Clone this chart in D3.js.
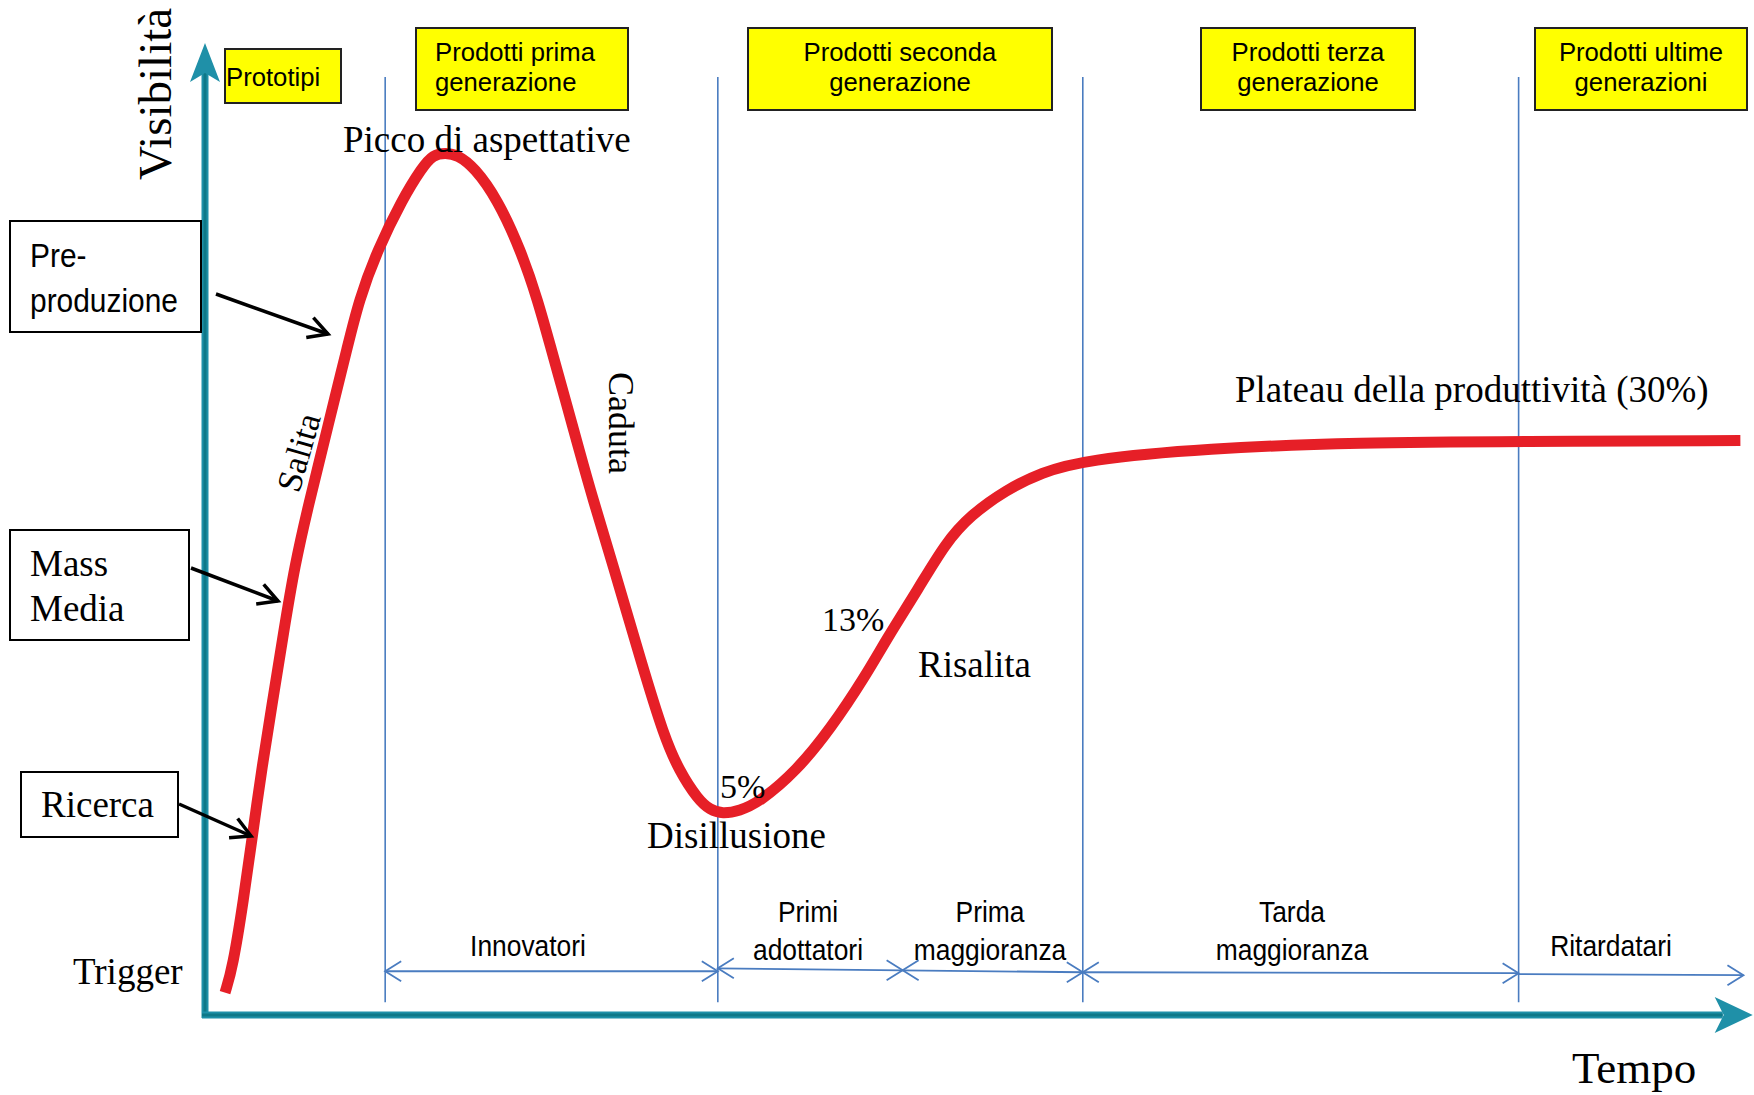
<!DOCTYPE html>
<html>
<head>
<meta charset="utf-8">
<script src="https://cdn.jsdelivr.net/npm/d3@7"></script>
<style>
  html, body { margin: 0; padding: 0; background: #ffffff; }
  svg { display: block; }
</style>
</head>
<body>
<svg id="chart" width="1754" height="1095"></svg>
<script>
// ---------------- DATA ----------------
// Hype curve: time (0-100) vs visibility (0-100)
const curveTime = [1.3, 1.8, 2.5, 3.1, 3.7, 4.4, 5.1, 5.8, 6.8, 7.6, 8.4, 9.2, 10.0, 11.2, 12.8, 14.1, 14.8, 15.6, 16.4, 17.5, 19.0, 20.5, 21.6, 22.5, 23.4, 24.3, 25.2, 26.4, 28.4, 29.8, 30.8, 32.0, 32.8, 33.6, 34.7, 36.0, 38.4, 40.6, 42.9, 44.3, 46.3, 48.1, 49.7, 52.0, 54.3, 57.1, 65.0, 75.0, 85.3, 99.7];
const curveVisibility = [2.3, 4.9, 11.8, 18.7, 25.5, 32.4, 39.3, 46.1, 53.0, 58.1, 63.3, 68.4, 73.6, 78.7, 83.9, 87.2, 88.5, 88.7, 88.5, 87.2, 83.9, 78.7, 73.6, 68.4, 63.3, 58.1, 53.0, 46.8, 35.9, 28.7, 25.1, 22.2, 21.1, 20.7, 21.0, 21.9, 25.1, 29.4, 34.9, 38.8, 43.8, 48.6, 51.4, 54.0, 55.8, 57.1, 58.3, 58.9, 59.0, 59.1];

// Product generation phases (boundaries on the time axis)
const phaseBoundaries = [11.7, 33.3, 57.0, 85.3];
const productLabels = [
  ["Prototipi"],
  ["Prodotti prima", "generazione"],
  ["Prodotti seconda", "generazione"],
  ["Prodotti terza", "generazione"],
  ["Prodotti ultime", "generazioni"]
];

// Adopter groups (spans on the time axis)
const adopterLabels = [["Innovatori"], ["Primi", "adottatori"], ["Prima", "maggioranza"], ["Tarda", "maggioranza"], ["Ritardatari"]];
const adopterStart = [11.7, 33.3, 45.3, 57.0, 85.3];
const adopterEnd = [33.3, 45.3, 57.0, 85.3, 99.9];
const adopterLevelStart = [4.5, 4.8, 4.6, 4.4, 4.2];
const adopterLevelEnd = [4.5, 4.6, 4.4, 4.3, 4.1];
const adopterStartHead = [true, true, true, true, false];

// Side driver labels
const driverLabels = [["Pre-", "produzione"], ["Mass", "Media"], ["Ricerca"]];

// ---------------- LAYOUT ----------------
const svg = d3.select("#chart");
const W = 1754, H = 1095;
svg.append("rect").attr("width", W).attr("height", H).attr("fill", "#ffffff");

const x = d3.scaleLinear().domain([0, 100]).range([205, 1745]);
const y = d3.scaleLinear().domain([0, 100]).range([1015, 43]);

const SERIF = "'Liberation Serif', 'Times New Roman', serif";
const SANS = "'Liberation Sans', Arial, sans-serif";

// multi-line narrow sans label as ONE text element
function sansText(parent, px, py, lines, size, anchor, lead, narrow) {
  const g = parent.append("g").attr("transform", `translate(${px},${py}) scale(${narrow || 0.88},1)`);
  const t = g.append("text").attr("x", 0).attr("y", 0)
    .attr("font-family", SANS).attr("font-size", size)
    .attr("text-anchor", anchor || "start").attr("fill", "#000");
  lines.forEach((ln, j) => {
    t.append("tspan").attr("x", 0).attr("dy", j === 0 ? 0 : lead).text(ln);
  });
  return g;
}
function serifText(parent, px, py, lines, size, rotate, lead) {
  const t = parent.append("text")
    .attr("font-family", SERIF).attr("font-size", size)
    .attr("fill", "#000")
    .attr("transform", `translate(${px},${py})` + (rotate ? ` rotate(${rotate})` : ""));
  [].concat(lines).forEach((ln, j) => {
    t.append("tspan").attr("x", 0).attr("dy", j === 0 ? 0 : lead).text(ln);
  });
  return t;
}

// ---------------- PHASE LINES ----------------
const blue = "#4a7cc0";
svg.append("g").selectAll("line").data(phaseBoundaries).join("line")
  .attr("x1", d => x(d)).attr("x2", d => x(d))
  .attr("y1", y(96.5)).attr("y2", y(1.3))
  .attr("stroke", blue).attr("stroke-width", 1.6);

// ---------------- AXES ----------------
const teal = "#1f90a8", tealDark = "#0f7888";
function arrowHeadPath(L, Wd, N) {
  return `M0,0 L${-L},${-Wd} L${-L + N},0 L${-L},${Wd} Z`;
}
const axes = svg.append("g");
axes.append("line").attr("x1", x(0)).attr("x2", x(0)).attr("y1", y(0) + 3).attr("y2", y(100) + 30)
  .attr("stroke", teal).attr("stroke-width", 7);
axes.append("line").attr("x1", x(0)).attr("x2", x(0)).attr("y1", y(0) + 3).attr("y2", y(100) + 30)
  .attr("stroke", tealDark).attr("stroke-width", 3);
axes.append("path").attr("d", arrowHeadPath(39, 15, 9))
  .attr("transform", `translate(${x(0)},${y(100)}) rotate(-90)`).attr("fill", teal);
axes.append("line").attr("x1", x(0) - 3).attr("x2", x(100.5) - 30).attr("y1", y(0)).attr("y2", y(0))
  .attr("stroke", teal).attr("stroke-width", 7);
axes.append("line").attr("x1", x(0) - 3).attr("x2", x(100.5) - 30).attr("y1", y(0)).attr("y2", y(0))
  .attr("stroke", tealDark).attr("stroke-width", 3);
axes.append("path").attr("d", arrowHeadPath(38, 18, 9))
  .attr("transform", `translate(${x(100.5)},${y(0)})`).attr("fill", teal);

// ---------------- ADOPTER ARROWS ----------------
const adopt = svg.append("g");
const AH = 16, AW = 10;
adopterLabels.forEach((lab, i) => {
  const x1 = x(adopterStart[i]), x2 = x(adopterEnd[i]);
  const y1 = y(adopterLevelStart[i]), y2 = y(adopterLevelEnd[i]);
  adopt.append("line").attr("x1", x1).attr("x2", x2).attr("y1", y1).attr("y2", y2)
    .attr("stroke", blue).attr("stroke-width", 1.8);
  adopt.append("path").attr("d", `M${x2 - AH},${y2 - AW} L${x2},${y2} L${x2 - AH},${y2 + AW}`)
    .attr("fill", "none").attr("stroke", blue).attr("stroke-width", 1.8);
  if (adopterStartHead[i]) {
    adopt.append("path").attr("d", `M${x1 + AH},${y1 - AW} L${x1},${y1} L${x1 + AH},${y1 + AW}`)
      .attr("fill", "none").attr("stroke", blue).attr("stroke-width", 1.8);
  }
});
const adopterLabelPos = [[528, 956], [808, 922], [990, 922], [1292, 922], [1611, 956]];
adopterLabels.forEach((lab, i) => {
  sansText(adopt, adopterLabelPos[i][0], adopterLabelPos[i][1], lab, 30, "middle", 38);
});

// ---------------- RED HYPE CURVE ----------------
const pts = curveTime.map((t, i) => [t, curveVisibility[i]]);
const line = d3.line().x(d => x(d[0])).y(d => y(d[1])).curve(d3.curveBasis);
svg.append("path").attr("d", line(pts))
  .attr("fill", "none").attr("stroke", "#e61f27").attr("stroke-width", 11)
  .attr("stroke-linecap", "butt").attr("stroke-linejoin", "round");

// ---------------- PRODUCT BOXES ----------------
const boxes = svg.append("g");
const productBoxLayout = [
  { x0: 225, x1: 341, y0: 49, y1: 103, tx: 226, anchor: "start", ty: 86 },
  { x0: 416, x1: 628, y0: 28, y1: 110, tx: 435, anchor: "start", ty: 61 },
  { x0: 748, x1: 1052, y0: 28, y1: 110, tx: 900, anchor: "middle", ty: 61 },
  { x0: 1201, x1: 1415, y0: 28, y1: 110, tx: 1308, anchor: "middle", ty: 61 },
  { x0: 1535, x1: 1747, y0: 28, y1: 110, tx: 1641, anchor: "middle", ty: 61 }
];
productLabels.forEach((lab, i) => {
  const b = productBoxLayout[i];
  boxes.append("rect").attr("x", b.x0).attr("y", b.y0).attr("width", b.x1 - b.x0).attr("height", b.y1 - b.y0)
    .attr("fill", "#ffff00").attr("stroke", "#222").attr("stroke-width", 2);
  sansText(boxes, b.tx, b.ty, lab, 26.5, b.anchor, 30, 0.97);
});

// ---------------- DRIVER BOXES & ARROWS ----------------
const drivers = svg.append("g");
const driverLayout = [
  { x0: 10, x1: 201, y0: 221, y1: 332, tx: 30, ty: 267, lead: 45, sans: true, size: 34, arrow: [216, 294, 328, 334] },
  { x0: 10, x1: 189, y0: 530, y1: 640, tx: 30, ty: 576, lead: 45, sans: false, size: 37, arrow: [191, 568, 278, 601] },
  { x0: 21, x1: 178, y0: 772, y1: 837, tx: 41, ty: 817, lead: 45, sans: false, size: 37, arrow: [179, 804, 251, 836] }
];
driverLabels.forEach((lab, i) => {
  const b = driverLayout[i];
  drivers.append("rect").attr("x", b.x0).attr("y", b.y0).attr("width", b.x1 - b.x0).attr("height", b.y1 - b.y0)
    .attr("fill", "#fff").attr("stroke", "#000").attr("stroke-width", 2);
  if (b.sans) sansText(drivers, b.tx, b.ty, lab, b.size, "start", b.lead);
  else serifText(drivers, b.tx, b.ty, lab, b.size, 0, b.lead);
  const [ax1, ay1, ax2, ay2] = b.arrow;
  drivers.append("line").attr("x1", ax1).attr("y1", ay1).attr("x2", ax2).attr("y2", ay2)
    .attr("stroke", "#000").attr("stroke-width", 3.5);
  const ang = Math.atan2(ay2 - ay1, ax2 - ax1);
  const hl = 22, ha = 0.5;
  const p1 = [ax2 - hl * Math.cos(ang - ha), ay2 - hl * Math.sin(ang - ha)];
  const p2 = [ax2 - hl * Math.cos(ang + ha), ay2 - hl * Math.sin(ang + ha)];
  drivers.append("path").attr("d", `M${p1[0]},${p1[1]} L${ax2},${ay2} L${p2[0]},${p2[1]}`)
    .attr("fill", "none").attr("stroke", "#000").attr("stroke-width", 3.5).attr("stroke-linejoin", "miter");
});

// ---------------- SERIF ANNOTATIONS ----------------
const ann = svg.append("g");
serifText(ann, 171, 180, "Visibilità", 47, -90);
serifText(ann, 343, 152, "Picco di aspettative", 37);
serifText(ann, 299, 494, "Salita", 35, -74);
serifText(ann, 609, 372, "Caduta", 36, 90);
serifText(ann, 1235, 402, "Plateau della produttività (30%)", 37);
serifText(ann, 822, 631, "13%", 34);
serifText(ann, 918, 677, "Risalita", 37);
serifText(ann, 720, 798, "5%", 34);
serifText(ann, 647, 848, "Disillusione", 37);
serifText(ann, 73, 984, "Trigger", 37);
serifText(ann, 1572, 1083, "Tempo", 45);
</script>
</body>
</html>
